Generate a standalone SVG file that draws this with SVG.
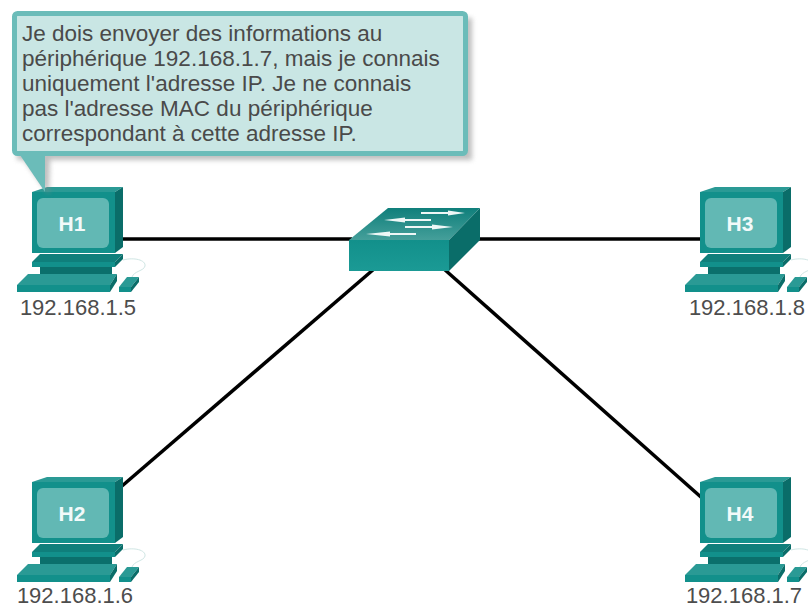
<svg xmlns="http://www.w3.org/2000/svg" width="808" height="608" viewBox="0 0 808 608">
<style>
text{font-family:"Liberation Sans",Arial,sans-serif}
.ip{font-size:22px;fill:#4d4d4d;text-anchor:middle}
.name{font-size:21px;font-weight:bold;fill:#f2fafa;text-anchor:middle}
.msg{font-size:22.5px;fill:#4a4a4a}
.link{stroke:#000;stroke-width:3.500;fill:none}
.arr{fill:#eef7f6}
</style>
<defs>
<linearGradient id="top" x1="0" y1="0" x2="0" y2="1"><stop offset="0" stop-color="#0f7f7b"/><stop offset="1" stop-color="#459f9a"/></linearGradient>
<linearGradient id="front" x1="0" y1="0" x2="0" y2="1"><stop offset="0" stop-color="#12908b"/><stop offset="1" stop-color="#1b9a95"/></linearGradient>
<filter id="sh" x="-5%" y="-5%" width="112%" height="118%"><feGaussianBlur stdDeviation="2.5"/></filter>
<g id="pc">
<path d="M123 260C134 257 146 260 145 266C144 271 134 271 132 277" fill="none" stroke="#cfe6e4" stroke-width="1"/>
<path d="M40 254H123L115 262H32Z" fill="#0f7f7b"/>
<path d="M32 262H115V267H32Z" fill="#12908b"/>
<path d="M115 262L123 254V259L115 267Z" fill="#0a6d69"/>
<path d="M40 267H112V274H40Z" fill="#0b706c"/>
<path d="M28 274H117L110 285H17Z" fill="#2a9a95"/>
<path d="M17 285H110V292H17Z" fill="#12908b"/>
<path d="M110 285L117 274V281L110 292Z" fill="#0a6d69"/>
<path d="M127 277H139L131 287H119Z" fill="#2a9a95"/>
<path d="M119 287H131V292H119Z" fill="#12908b"/>
<path d="M131 287L139 277V282L131 292Z" fill="#0a6d69"/>
<path d="M47 187H123L115 192H32Z" fill="#2a9a95"/>
<path d="M115 192L123 187V247L115 253Z" fill="#0a6d69"/>
<rect x="32" y="192" width="83" height="61" fill="#12908b"/>
<rect x="37" y="198" width="72" height="50" rx="6" fill="#62b8b4"/>
</g>
</defs>
<g id="connectors">
<path class="link" d="M120 239H352"/>
<path class="link" d="M476 239H702"/>
<path class="link" d="M374 269L122 486"/>
<path class="link" d="M444 269L702 498"/>
</g>
<g id="H1"><use href="#pc"/><text class="name" x="72" y="231">H1</text><text class="ip" x="78" y="315">192.168.1.5</text></g>
<g id="H2"><use href="#pc" y="290"/><text class="name" x="72" y="521">H2</text><text class="ip" x="75" y="603">192.168.1.6</text></g>
<g id="H3"><use href="#pc" x="668"/><text class="name" x="740" y="231">H3</text><text class="ip" x="747" y="315">192.168.1.8</text></g>
<g id="H4"><use href="#pc" x="668" y="290"/><text class="name" x="740" y="521">H4</text><text class="ip" x="744" y="603">192.168.1.7</text></g>
<g id="switch">
<path d="M349 240L388 208H480L449 240Z" fill="url(#top)"/>
<path d="M349 240H449V271H349Z" fill="url(#front)"/>
<path d="M449 240L480 208V240L449 271Z" fill="#0a6d69"/>
<path class="arr" d="M421 212H448V210.500L465 213L448 215.500V214H421Z"/>
<path class="arr" d="M431 219H405V217.500L384 220L405 222.500V221H431Z"/>
<path class="arr" d="M405 226H432V224.500L453 227L432 229.500V228H405Z"/>
<path class="arr" d="M416 233H390V231.500L366 234L390 236.500V235H416Z"/>
</g>
<g id="callout">
<path d="M17 18H472V160H50L49 195L24 160H17Z" fill="#8a8a8a" opacity=".55" filter="url(#sh)"/>
<path d="M20 155H45V192Z" fill="#6bbcb9"/>
<rect x="14.500" y="13.500" width="451" height="140" rx="3" fill="#c9e6e4" stroke="#6bbcb9" stroke-width="5"/>
<path d="M20.500 153H45V156H20.500Z" fill="#6bbcb9"/>
<text class="msg" x="22" y="41">Je dois envoyer des informations au</text>
<text class="msg" x="22" y="66">périphérique 192.168.1.7, mais je connais</text>
<text class="msg" x="22" y="91">uniquement l'adresse IP. Je ne connais</text>
<text class="msg" x="22" y="116">pas l'adresse MAC du périphérique</text>
<text class="msg" x="22" y="141">correspondant à cette adresse IP.</text>
</g>
</svg>
